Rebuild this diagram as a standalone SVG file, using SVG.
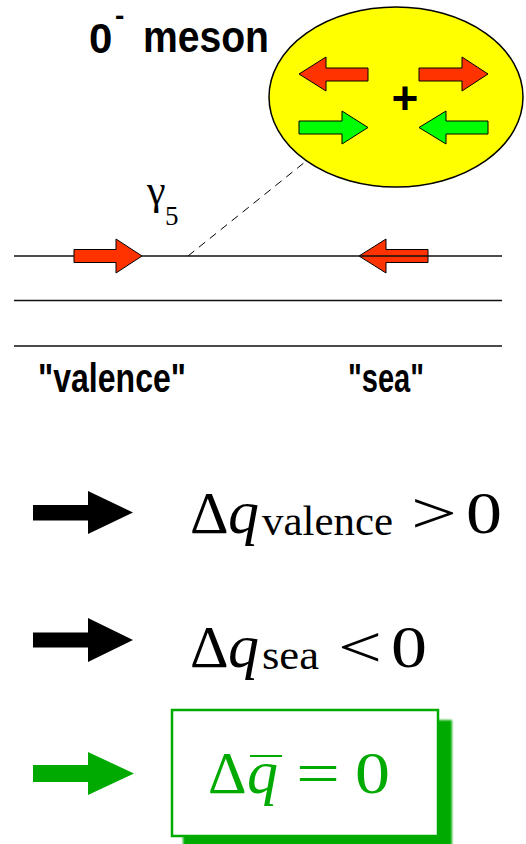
<svg xmlns="http://www.w3.org/2000/svg" width="526" height="844" viewBox="0 0 526 844">
<style>
.lbl{font-family:"Liberation Sans",Arial,sans-serif;font-weight:bold;fill:#000}
.m{font-family:"Liberation Serif","Times New Roman",serif;fill:#000}
.mi{font-family:"Liberation Serif","Times New Roman",serif;font-style:italic;fill:#000}
.g{fill:#00AA00}
.red{fill:#FF3300;stroke:#000;stroke-width:1}
.grn{fill:#00FF00;stroke:#000;stroke-width:1}
.hl{stroke:#111;stroke-width:1.3;fill:none}
</style>
<defs>
<filter id="blur" x="-5%" y="-5%" width="110%" height="110%"><feGaussianBlur stdDeviation="1.2"/></filter>
</defs>
<rect width="526" height="844" fill="#fff"/>

<g id="meson">
<ellipse cx="396" cy="97" rx="127" ry="90" fill="#FFFF00" stroke="#000" stroke-width="1.5"/>
<polygon class="red" points="299,74 326,57 326,68 368,68 368,81 326,81 326,91"/>
<polygon class="red" points="419,68 462,68 462,57 488,74 462,91 462,81 419,81"/>
<polygon class="grn" points="299,121 342,121 342,111 368,127.5 342,144 342,134 299,134"/>
<polygon class="grn" points="419,127.5 446,111 446,121 488,121 488,134 446,134 446,144"/>
<text class="lbl" x="405" y="114" font-size="46" text-anchor="middle">+</text>
</g>

<g id="title">
<text class="lbl" x="89" y="53" font-size="42">0</text>
<text class="lbl" x="115" y="25" font-size="28">-</text>
<text class="lbl" x="143" y="52" font-size="45" textLength="126" lengthAdjust="spacingAndGlyphs">meson</text>
</g>

<g id="gamma5">
<text class="m" x="147" y="204" font-size="42">γ</text>
<text class="m" x="165" y="225" font-size="27">5</text>
</g>

<g id="connectors">
<line x1="188" y1="256" x2="305" y2="162" stroke="#000" stroke-width="1" stroke-dasharray="8,6"/>
</g>

<g id="quark-lines">
<polygon class="red" points="359,256 386,239 386,249.5 428,249.5 428,262.5 386,262.5 386,273"/>
<line class="hl" x1="14" y1="256" x2="502" y2="256"/>
<line class="hl" x1="14" y1="300.5" x2="502" y2="300.5"/>
<line class="hl" x1="14" y1="346" x2="502" y2="346"/>
<polygon class="red" points="74,249.5 116,249.5 116,239 142,256 116,273 116,262.5 74,262.5"/>
</g>

<g id="labels">
<text class="lbl" x="38" y="392" font-size="40" textLength="148" lengthAdjust="spacingAndGlyphs">"valence"</text>
<text class="lbl" x="348" y="392" font-size="40" textLength="76" lengthAdjust="spacingAndGlyphs">"sea"</text>
</g>

<g id="result-valence">
<polygon fill="#000" points="33,505 88,505 88,491 133,512.5 88,534 88,520.5 33,520.5"/>
<text class="m" x="190" y="533" font-size="60">Δ</text>
<text class="mi" x="228" y="533" font-size="62">q</text>
<text class="m" x="262" y="535" font-size="42" textLength="131" lengthAdjust="spacingAndGlyphs">valence</text>
<text class="m" x="411" y="533" font-size="60" textLength="46" lengthAdjust="spacingAndGlyphs">&gt;</text>
<text class="m" x="466" y="533" font-size="60" textLength="36" lengthAdjust="spacingAndGlyphs">0</text>
</g>

<g id="result-sea">
<polygon fill="#000" points="33,632.5 88,632.5 88,618 133,640 88,662 88,647.5 33,647.5"/>
<text class="m" x="190" y="667" font-size="60">Δ</text>
<text class="mi" x="228" y="667" font-size="62">q</text>
<text class="m" x="262" y="669" font-size="42" textLength="57" lengthAdjust="spacingAndGlyphs">sea</text>
<text class="m" x="338" y="667" font-size="60" textLength="44" lengthAdjust="spacingAndGlyphs">&lt;</text>
<text class="m" x="391" y="667" font-size="60" textLength="36" lengthAdjust="spacingAndGlyphs">0</text>
</g>

<g id="result-total">
<polygon fill="#00AA00" points="33,765 88,765 88,752 134,773.5 88,795 88,782 33,782"/>
<rect x="183" y="720" width="269" height="130" fill="#00AA00" filter="url(#blur)"/>
<rect x="172" y="710" width="266" height="126" fill="#fff" stroke="#00AA00" stroke-width="2.5"/>
<text class="m g" x="208" y="793" font-size="60">Δ</text>
<text class="mi g" x="247" y="793" font-size="62">q</text>
<line x1="250" y1="756" x2="282" y2="756" stroke="#00AA00" stroke-width="2"/>
<text class="m g" x="296" y="793" font-size="60" textLength="44" lengthAdjust="spacingAndGlyphs">=</text>
<text class="m g" x="355" y="793" font-size="60" textLength="35" lengthAdjust="spacingAndGlyphs">0</text>
</g>
</svg>
